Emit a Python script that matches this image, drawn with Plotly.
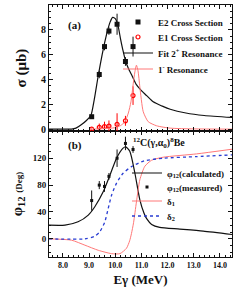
import plotly.graph_objects as go

# ---------------- data ----------------
# panel (a): cross sections
e_pts = [9.1, 9.39, 9.59, 9.76, 10.07, 10.39, 10.68]
e2_sigma = [1.0, 4.4, 6.65, 7.9, 8.45, 5.45, 6.65]
e2_err = [0.15, 0.3, 0.3, 0.3, 0.85, 0.35, 0.8]
e1_sigma = [0.0, 0.15, 0.2, 0.25, 0.38, 0.67, 2.7]
e1_err = [0.05, 0.3, 0.4, 0.45, 0.9, 0.4, 0.75]

fit2_e = [7.47, 8.0, 8.33, 8.5, 8.7, 8.9, 9.07, 9.2, 9.35, 9.5, 9.6, 9.7, 9.8, 9.9,
          10.0, 10.1, 10.2, 10.3, 10.4, 10.5, 10.62, 10.8, 11.0, 11.2, 11.45, 11.8,
          12.1, 12.7, 13.4, 14.46]
fit2_sigma = [0.0, 0.0, 0.0, 0.08, 0.35, 0.7, 1.1, 2.4, 4.3, 6.0, 7.0, 7.9, 8.6, 9.0,
              8.9, 8.4, 7.3, 6.3, 5.45, 4.9, 4.4, 3.6, 3.1, 2.7, 2.2, 1.85,
              1.6, 1.3, 1.1, 0.94]

res1_e = [9.0, 9.5, 10.0, 10.2, 10.37, 10.5, 10.6, 10.69, 10.75, 10.81, 10.87, 10.94,
          11.07, 11.26, 11.58, 12.1, 13.0, 14.46]
res1_sigma = [0.0, 0.03, 0.12, 0.28, 0.6, 1.3, 2.2, 3.7, 4.6, 5.15, 4.7, 3.4,
              1.4, 0.6, 0.27, 0.08, 0.02, 0.0]

# panel (b): phases
phi_meas = [57, 80, 78, 93, 120, 142, 133]
phi_err = [15, 6, 8, 5, 13, 10, 5]

phi_e = [7.47, 8.08, 8.58, 8.97, 9.22, 9.54, 9.8, 10.05, 10.3, 10.4, 10.56, 10.75,
         10.94, 11.1, 11.2, 11.39, 11.7, 12.47, 13.36, 14.46]
phi_calc = [20.4, 20.5, 25.4, 35.4, 47.8, 70, 95, 120, 135, 137, 130, 98,
            58, 38, 30, 21.5, 17, 14.5, 11.5, 6.5]

d2_e = [7.47, 8.84, 9.22, 9.41, 9.6, 9.73, 9.86, 10.05, 10.3, 10.62, 11.1, 11.83, 13.1, 14.46]
d2_val = [0, 0, 4, 10.5, 25, 45, 65, 83, 97.6, 107.5, 116, 120, 122.4, 125]

d1_e = [7.47, 8.33, 8.84, 9.35, 9.86, 10.18, 10.43, 10.55, 10.62, 10.7, 10.81, 10.94,
        11.13, 11.39, 11.83, 13.1, 14.46]
d1_val = [0, -2, -9.4, -17, -22, -22, -14, -3, 8, 24, 55, 88,
          108, 117, 121.5, 126.4, 133.4]

x_ticks = [8, 9, 10, 11, 12, 13, 14]
x_tick_text = ["8.0", "9.0", "10.0", "11.0", "12.0", "13.0", "14.0"]

# ---------------- figure ----------------
FONT = "Liberation Serif"
BLACK = "#111111"
RED = "rgb(255,120,120)"
BLUE = "rgb(40,60,210)"

fig = go.Figure()

fig.add_trace(go.Scatter(x=e_pts, y=e2_sigma, mode="markers", name="E2 Cross Section",
                         marker=dict(symbol="square", size=5, color=BLACK),
                         error_y=dict(type="data", array=e2_err, color=BLACK, thickness=1, width=0),
                         xaxis="x2", yaxis="y2", legend="legend"))
fig.add_trace(go.Scatter(x=e_pts, y=e1_sigma, mode="markers", name="E1 Cross Section",
                         marker=dict(symbol="circle-open", size=4, color="red", line=dict(width=1.2)),
                         error_y=dict(type="data", array=e1_err, color="red", thickness=1, width=0),
                         xaxis="x2", yaxis="y2", legend="legend2"))
fig.add_trace(go.Scatter(x=fit2_e, y=fit2_sigma, mode="lines", name="Fit 2<sup>+</sup> Resonance",
                         line=dict(color=BLACK, width=1.2, shape="spline", smoothing=0.6),
                         xaxis="x2", yaxis="y2", legend="legend3"))
fig.add_trace(go.Scatter(x=res1_e, y=res1_sigma, mode="lines", name="1<sup>-</sup> Resonance",
                         line=dict(color=RED, width=1, shape="spline", smoothing=0.6),
                         xaxis="x2", yaxis="y2", legend="legend4"))

fig.add_trace(go.Scatter(x=phi_e, y=phi_calc, mode="lines", name="φ<sub>12</sub>(calculated)",
                         line=dict(color=BLACK, width=1.2, shape="spline", smoothing=0.6),
                         xaxis="x", yaxis="y", legend="legend5"))
fig.add_trace(go.Scatter(x=e_pts, y=phi_meas, mode="markers", name="φ<sub>12</sub>(measured)",
                         marker=dict(symbol="square", size=3, color=BLACK),
                         error_y=dict(type="data", array=phi_err, color=BLACK, thickness=1, width=0),
                         xaxis="x", yaxis="y", legend="legend6"))
fig.add_trace(go.Scatter(x=d1_e, y=d1_val, mode="lines", name="δ<sub>1</sub>",
                         line=dict(color=RED, width=1, shape="spline", smoothing=0.6),
                         xaxis="x", yaxis="y", legend="legend7"))
fig.add_trace(go.Scatter(x=d2_e, y=d2_val, mode="lines", name="δ<sub>2</sub>",
                         line=dict(color=BLUE, width=1.3, dash="dot", shape="spline", smoothing=0.6),
                         xaxis="x", yaxis="y", legend="legend8"))

L = 49
R = 8
T = 5
B = 37
W = 240
H = 294
PW = W - L - R
PH = H - T - B


def px2x(px):
    return (px - L) / PW


def py2y(py):
    return (H - B - py) / PH


axis_common = dict(showline=True, mirror="allticks", linecolor=BLACK, linewidth=1,
                   ticks="inside", ticklen=4, tickcolor=BLACK, showgrid=False, zeroline=False,
                   automargin=False,
                   tickfont=dict(family=FONT, size=9, color=BLACK, weight="bold"))

legend_font = dict(family=FONT, size=9, color=BLACK, weight="bold")
leg_base = dict(xanchor="left", yanchor="middle", bgcolor="rgba(0,0,0,0)",
                font=legend_font, itemwidth=30, tracegroupgap=0)

legend_a_x = px2x(118)
legend_b_x = px2x(127)

fig.update_layout(
    width=W, height=H,
    margin=dict(l=L, r=R, t=T, b=B, autoexpand=False),
    paper_bgcolor="white", plot_bgcolor="white",
    font=dict(family=FONT, color=BLACK, weight="bold"),
    showlegend=True,
    xaxis=dict(axis_common, domain=[0, 1], range=[7.47, 14.46], anchor="y",
               tickvals=x_ticks, ticktext=x_tick_text,
               tickfont=dict(family=FONT, size=8, color=BLACK, weight="bold"),
               minor=dict(dtick=0.2, ticks="inside", ticklen=2, tickcolor=BLACK),
               title=dict(text="Eγ (MeV)", font=dict(family=FONT, size=13, weight="bold"), standoff=6)),
    yaxis=dict(axis_common, domain=[0, 0.5], range=[-27, 160.5], anchor="x",
               tickvals=[0, 40, 80, 120],
               minor=dict(dtick=10, ticks="inside", ticklen=2, tickcolor=BLACK),
               title=dict(text="φ<sub>12</sub> <span style='font-size:9px'>(Deg)</span>",
                          font=dict(family=FONT, size=15, weight="bold"), standoff=6)),
    xaxis2=dict(axis_common, domain=[0, 1], range=[7.47, 14.46], anchor="y2", matches="x",
                showticklabels=False, tickvals=x_ticks,
                minor=dict(dtick=0.2, ticks="inside", ticklen=2, tickcolor=BLACK)),
    yaxis2=dict(axis_common, domain=[0.5, 1], range=[-0.15, 10.0], anchor="x2",
                tickvals=[0, 2, 4, 6, 8],
                tickfont=dict(family=FONT, size=10, color=BLACK, weight="bold"),
                minor=dict(dtick=0.5, ticks="inside", ticklen=2, tickcolor=BLACK),
                title=dict(text="σ (μb)", font=dict(family=FONT, size=15, weight="bold"), standoff=10)),
    legend=dict(leg_base, x=legend_a_x, y=py2y(22)),
    legend2=dict(leg_base, x=legend_a_x, y=py2y(37)),
    legend3=dict(leg_base, x=legend_a_x, y=py2y(53)),
    legend4=dict(leg_base, x=legend_a_x, y=py2y(69)),
    legend5=dict(leg_base, x=legend_b_x, y=py2y(173)),
    legend6=dict(leg_base, x=legend_b_x, y=py2y(187)),
    legend7=dict(leg_base, x=legend_b_x, y=py2y(201)),
    legend8=dict(leg_base, x=legend_b_x, y=py2y(216)),
    annotations=[
        dict(text="(a)", x=px2x(66), y=py2y(17), xref="paper", yref="paper",
             showarrow=False, font=dict(family=FONT, size=11, weight="bold")),
        dict(text="(b)", x=px2x(66), y=py2y(145), xref="paper", yref="paper",
             showarrow=False, font=dict(family=FONT, size=11, weight="bold")),
        dict(text="<sup>12</sup>C(γ,α<sub>0</sub>)<sup>8</sup>Be", x=px2x(187), y=py2y(143),
             xref="paper", yref="paper", showarrow=False,
             font=dict(family=FONT, size=10, weight="bold")),
    ],
)

fig.write_html("out.html", config={"displayModeBar": False},
               post_script="document.body.style.margin='0';")
